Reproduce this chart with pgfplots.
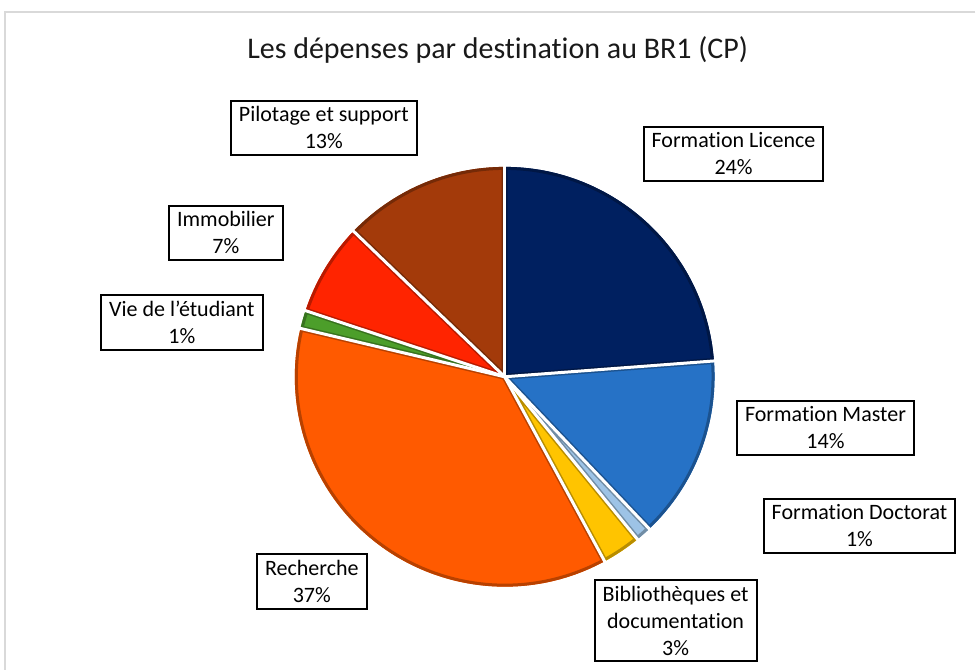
\documentclass[border=0pt]{standalone}
\usepackage{pgfplots}
\pgfplotsset{compat=1.18}
\usepackage{pgfplotstable}
\usepackage{fontspec}
\setmainfont{Carlito}[Ligatures={NoCommon}]
\definecolor{c0}{HTML}{002060}
\definecolor{c1}{HTML}{2672C6}
\definecolor{c2}{HTML}{9DC3E6}
\definecolor{c3}{HTML}{FFC400}
\definecolor{c4}{HTML}{FF5A00}
\definecolor{c5}{HTML}{4C9E2A}
\definecolor{c6}{HTML}{FF2400}
\definecolor{c7}{HTML}{A33A0A}
\definecolor{frame}{HTML}{D9D9D9}
% share of each destination (percent), label box centre (x, y)
\pgfplotstableread{
val  lx  ly
23.8 734 516
14.1 826 242
1.2  860 144
3.0  676 49
36.6 312 88
1.4  182 347
7.1  226 437
12.8 324 542
}\pies
\expandafter\def\csname lab0\endcsname{Formation Licence\\24\%}
\expandafter\def\csname lab1\endcsname{Formation Master\\14\%}
\expandafter\def\csname lab2\endcsname{Formation Doctorat\\1\%}
\expandafter\def\csname lab3\endcsname{Bibliothèques et\\documentation\\3\%}
\expandafter\def\csname lab4\endcsname{Recherche\\37\%}
\expandafter\def\csname lab5\endcsname{Vie de l’étudiant\\1\%}
\expandafter\def\csname lab6\endcsname{Immobilier\\7\%}
\expandafter\def\csname lab7\endcsname{Pilotage et support\\13\%}
\xdef\cum{90}
\foreach \i in {0,...,7}{%
  \pgfplotstablegetelem{\i}{val}\of\pies
  \pgfmathsetmacro\sweep{\pgfplotsretval*3.6}%
  \pgfmathsetmacro\e{\cum-\sweep}%
  \expandafter\xdef\csname sA\i\endcsname{\cum}%
  \expandafter\xdef\csname eA\i\endcsname{\e}%
  \xdef\cum{\e}%
  \pgfplotstablegetelem{\i}{lx}\of\pies
  \expandafter\xdef\csname lx\i\endcsname{\pgfplotsretval}%
  \pgfplotstablegetelem{\i}{ly}\of\pies
  \expandafter\xdef\csname ly\i\endcsname{\pgfplotsretval}%
}
\def\cx{505}\def\cy{293}\def\R{105pt}
\begin{document}
\begin{tikzpicture}
\begin{axis}[width=488pt, height=335pt, scale only axis,
  xmin=0, xmax=976, ymin=0, ymax=670, hide axis, clip=false]
\path (axis cs:0,0) rectangle (axis cs:976,670);
\draw[frame, line width=0.6pt] (axis cs:976,658) -- (axis cs:5,658) -- (axis cs:5,0);
\node[anchor=base, font=\fontsize{15}{18}\selectfont, text=black!90] at (axis cs:498,611)
  {Les dépenses par destination au BR1 (CP)};
\pgfplotsinvokeforeach{0,...,7}{
  \begin{scope}
  \clip (axis cs:\cx,\cy) -- +(\csname sA#1\endcsname:\R)
     arc[start angle=\csname sA#1\endcsname, end angle=\csname eA#1\endcsname, radius=\R] -- cycle;
  \fill[c#1] (axis cs:\cx,\cy) circle[radius=106pt];
  \draw[c#1!72!black, line width=3pt] (axis cs:\cx,\cy) -- +(\csname sA#1\endcsname:\R)
     arc[start angle=\csname sA#1\endcsname, end angle=\csname eA#1\endcsname, radius=\R] -- cycle;
  \end{scope}
}
\pgfplotsinvokeforeach{0,...,7}{
  \draw[white, line width=1.5pt] (axis cs:\cx,\cy) -- +(\csname sA#1\endcsname:107pt);
}
\pgfplotsinvokeforeach{0,...,7}{
  \node[draw=black, line width=1pt, fill=white, align=center,
    font=\fontsize{11}{13.5}\selectfont, inner xsep=4pt, inner ysep=3pt]
    at (axis cs:\csname lx#1\endcsname,\csname ly#1\endcsname) {\csname lab#1\endcsname};
}
\end{axis}
\end{tikzpicture}
\end{document}
